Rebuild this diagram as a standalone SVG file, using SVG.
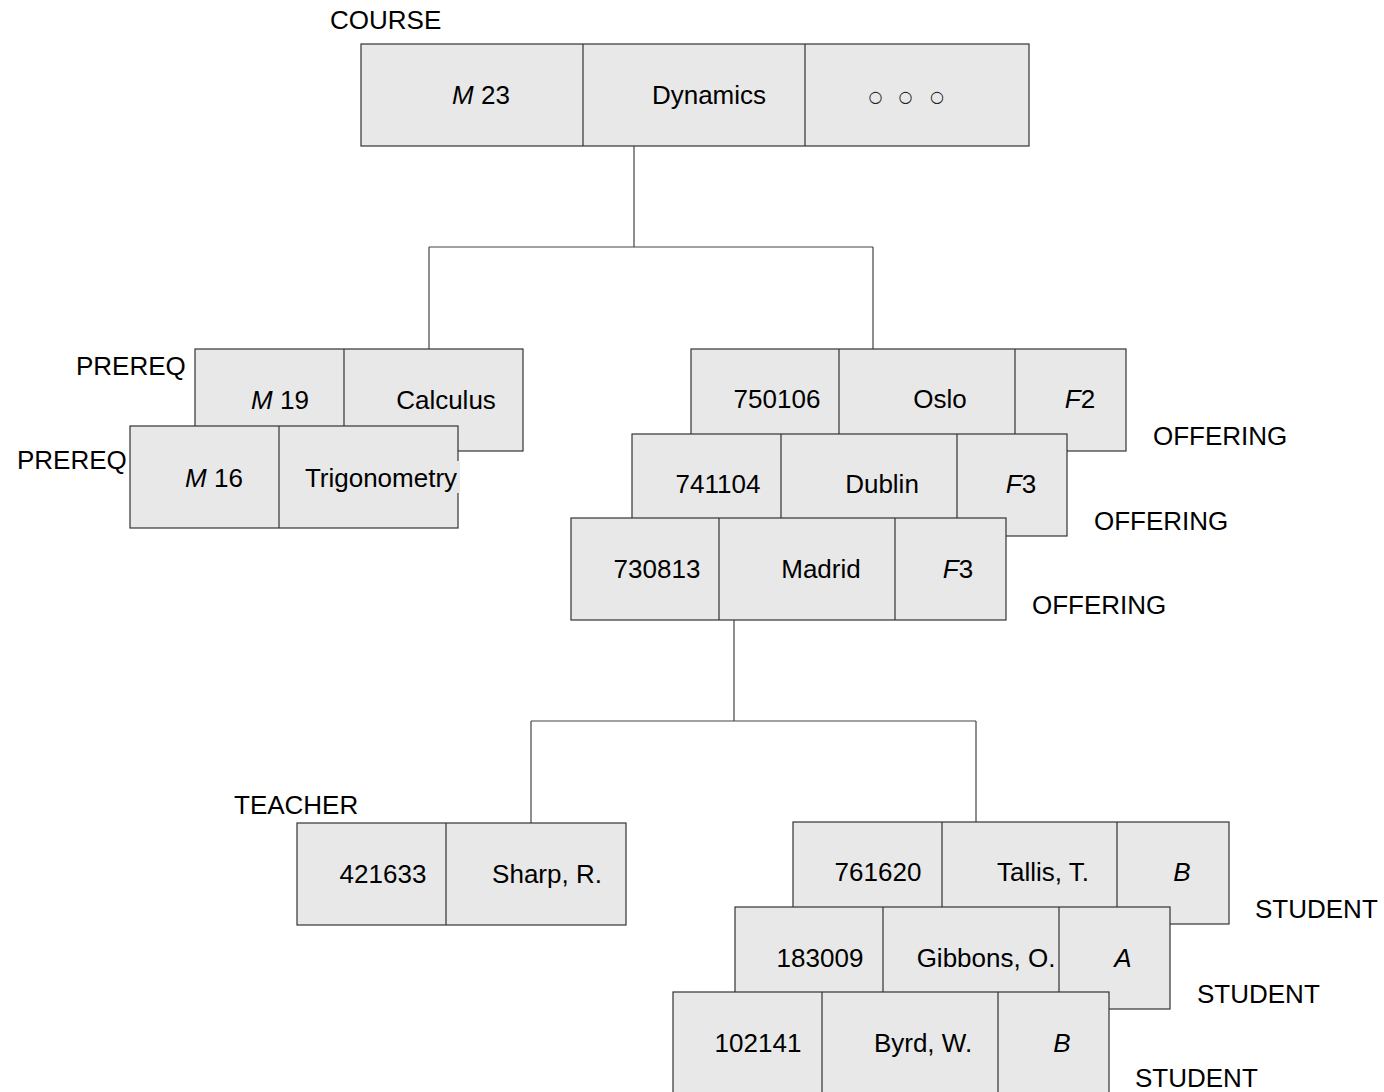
<svg xmlns="http://www.w3.org/2000/svg" width="1384" height="1092" viewBox="0 0 1384 1092">
<style>
.box{fill:#e8e8e8;stroke:#333;stroke-width:1.2}
.div{stroke:#333;stroke-width:1.2}
.t{font-family:"Liberation Sans",Arial,sans-serif;font-size:26px;fill:#000;text-anchor:middle}
.lab{font-family:"Liberation Sans",Arial,sans-serif;font-size:26px;fill:#000}
.i{font-style:italic}
.con{fill:none;stroke:#444;stroke-width:1.2}
.dots{font-family:"DejaVu Sans",sans-serif;font-size:16px;fill:#222;text-anchor:middle}
</style>
<rect width="1384" height="1092" fill="#fff"/>
<g id="connectors">
<path class="con" d="M634 146V247M429 247H873M429 247V349M873 247V349"/>
<path class="con" d="M734 620V721M531 721H976M531 721V823M976 721V822"/>
</g>
<g id="course">
<text class="lab" x="330" y="29">COURSE</text>
<rect class="box" x="361" y="44" width="668" height="102"/>
<path class="div" d="M583 44V146M805 44V146"/>
<text class="t" x="481" y="104"><tspan class="i">M</tspan> 23</text>
<text class="t" x="709" y="104">Dynamics</text>
<text class="dots" y="102"><tspan x="878">○</tspan> <tspan x="908">○</tspan> <tspan x="937">○</tspan></text>
</g>
<g id="prereq1">
<text class="lab" x="76" y="375">PREREQ</text>
<rect class="box" x="195" y="349" width="328" height="102"/>
<path class="div" d="M344 349V451"/>
<text class="t" x="280" y="409"><tspan class="i">M</tspan> 19</text>
<text class="t" x="446" y="409">Calculus</text>
</g>
<g id="prereq2">
<text class="lab" x="17" y="469">PREREQ</text>
<rect class="box" x="130" y="426" width="328" height="102"/>
<path class="div" d="M279 426V528"/>
<rect x="440" y="461" width="20" height="32" fill="#e8e8e8"/>
<text class="t" x="214" y="487"><tspan class="i">M</tspan> 16</text>
<text class="t" x="381" y="487">Trigonometry</text>
</g>
<g id="offering1">
<rect class="box" x="691" y="349" width="435" height="102"/>
<path class="div" d="M839 349V451M1015 349V451"/>
<text class="t" x="777" y="408">750106</text>
<text class="t" x="940" y="408">Oslo</text>
<text class="t" x="1080" y="408"><tspan class="i">F</tspan>2</text>
<text class="lab" x="1153" y="445">OFFERING</text>
</g>
<g id="offering2">
<rect class="box" x="632" y="434" width="435" height="102"/>
<path class="div" d="M781 434V536M957 434V536"/>
<text class="t" x="718" y="493">741104</text>
<text class="t" x="882" y="493">Dublin</text>
<text class="t" x="1021" y="493"><tspan class="i">F</tspan>3</text>
<text class="lab" x="1094" y="530">OFFERING</text>
</g>
<g id="offering3">
<rect class="box" x="571" y="518" width="435" height="102"/>
<path class="div" d="M719 518V620M895 518V620"/>
<text class="t" x="657" y="578">730813</text>
<text class="t" x="821" y="578">Madrid</text>
<text class="t" x="958" y="578"><tspan class="i">F</tspan>3</text>
<text class="lab" x="1032" y="614">OFFERING</text>
</g>
<g id="teacher">
<text class="lab" x="234" y="814">TEACHER</text>
<rect class="box" x="297" y="823" width="329" height="102"/>
<path class="div" d="M446 823V925"/>
<text class="t" x="383" y="883">421633</text>
<text class="t" x="547" y="883">Sharp, R.</text>
</g>
<g id="student1">
<rect class="box" x="793" y="822" width="436" height="102"/>
<path class="div" d="M942 822V924M1117 822V924"/>
<text class="t" x="878" y="881">761620</text>
<text class="t" x="1043" y="881">Tallis, T.</text>
<text class="t i" x="1182" y="881">B</text>
<text class="lab" x="1255" y="918">STUDENT</text>
</g>
<g id="student2">
<rect class="box" x="735" y="907" width="435" height="102"/>
<path class="div" d="M883 907V1009M1059 907V1009"/>
<text class="t" x="820" y="967">183009</text>
<text class="t" x="986" y="967">Gibbons, O.</text>
<text class="t i" x="1123" y="967">A</text>
<text class="lab" x="1197" y="1003">STUDENT</text>
</g>
<g id="student3">
<rect class="box" x="673" y="992" width="436" height="102"/>
<path class="div" d="M822 992V1094M998 992V1094"/>
<text class="t" x="758" y="1052">102141</text>
<text class="t" x="923" y="1052">Byrd, W.</text>
<text class="t i" x="1062" y="1052">B</text>
<text class="lab" x="1135" y="1087">STUDENT</text>
</g>
</svg>
